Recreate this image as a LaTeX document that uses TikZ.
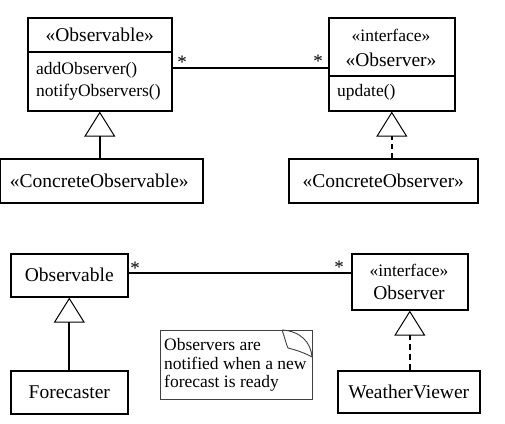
\documentclass[tikz,border=0pt]{standalone}
\usepackage{fontspec}
\setmainfont{Liberation Serif}
\usetikzlibrary{arrows.meta}
\begin{document}
\begin{tikzpicture}[x=1pt,y=-1pt,
  box/.style={draw, line width=1.6pt, inner sep=0pt, anchor=north west},
  big/.style={font=\fontsize{19.5}{22}\selectfont, inner sep=0pt},
  small/.style={font=\fontsize{17.5}{19}\selectfont, inner sep=0pt},
  assoc/.style={line width=1.1pt},
  mult/.style={font=\fontsize{19}{19}\selectfont, inner sep=0pt},
  gen/.style={line width=2pt, -{Triangle[open, length=25pt, width=31pt, line width=1pt]}},
  realize/.style={gen, dash pattern=on 5pt off 4pt},
  notebox/.style={draw=black!75, line width=0.9pt},
]
\useasboundingbox (0,0) rectangle (505,423);

% ---- pattern: Observable / Observer ----
\node[box, big, minimum width=144pt, minimum height=34pt] (obsHead) at (27,17) {«Observable»};
\node[box, minimum width=144pt, minimum height=59pt] (obsOps) at (27,51) {};
\node[small, anchor=west] (opAdd) at (36,70) {addObserver()};
\node[small, anchor=west] (opNotify) at (36,92) {notifyObservers()};

\node[box, minimum width=126pt, minimum height=58pt] (obsrHead) at (328,17) {};
\node[small] (obsrStereo) at (391,35) {«interface»};
\node[big] (obsrName) at (391,60) {«Observer»};
\node[box, minimum width=126pt, minimum height=35pt] (obsrOps) at (328,75) {};
\node[small, anchor=west] (opUpdate) at (337,92) {update()};

\node[box, big, minimum width=203pt, minimum height=44pt] (cObs) at (-1,158) {\hspace{-4pt}«ConcreteObservable»};
\node[box, big, minimum width=189pt, minimum height=44pt] (cObsr) at (288,158) {«ConcreteObserver»};

% association with multiplicities
\draw[assoc] ([yshift=-17pt]obsOps.north east) -- ([yshift=-17pt]obsOps.north east -| obsrHead.west);
\node[mult] (m1) at (182,62) {*};
\node[mult] (m2) at (318,61) {*};

% generalization and realization
\draw[gen, line width=2.4pt] (cObs.north -| obsOps.south) -- (obsOps.south);
\draw[realize, line width=1.6pt] (cObsr.north -| obsrOps.south) -- (obsrOps.south);

% ---- example: weather forecast ----
\node[box, big, minimum width=117pt, minimum height=43pt] (wObs) at (10,253) {Observable};
\node[box, big, minimum width=117pt, minimum height=43pt] (fc) at (10,370) {Forecaster};

\node[box, minimum width=116pt, minimum height=56pt] (wObsr) at (351,253) {};
\node[small] (wStereo) at (409,270) {«interface»};
\node[big] (wName) at (409,293) {Observer};
\node[box, big, minimum width=142pt, minimum height=42pt] (wv) at (337,370) {WeatherViewer};

\draw[assoc, line width=1.6pt] ([yshift=-20pt]wObs.north east) -- ([yshift=-20pt]wObs.north east -| wObsr.west);
\node[mult] (m3) at (135,268) {*};
\node[mult] (m4) at (339,267) {*};

\draw[gen] (fc.north) -- (wObs.south);
\draw[realize, line width=2.4pt, dash pattern=on 6pt off 4pt] (wv.north -| wObsr.south) -- (wObsr.south);

% note with curled corner
\node[notebox, anchor=north west, minimum width=152pt, minimum height=69pt, inner sep=0pt] (note) at (160,330) {};
\node[small, anchor=west, align=left, font=\fontsize{17.5}{18.5}\selectfont] (noteText) at (164,365)
  {Observers are\\notified when a new\\forecast is ready};
\draw[notebox] (282,330) .. controls (300,331) and (311,342) .. (312,357);
\draw[notebox] (282,330) .. controls (285,338) and (286,344) .. (288,348) .. controls (296,350) and (305,353) .. (312,357);
\end{tikzpicture}
\end{document}
